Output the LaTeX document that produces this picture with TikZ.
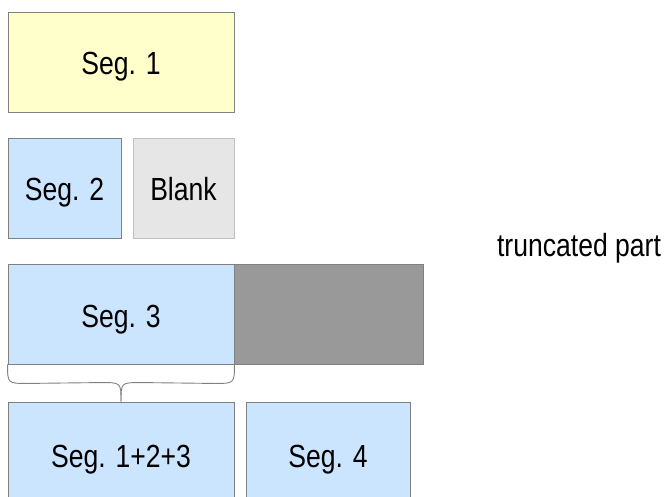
\documentclass[tikz,border=0pt]{standalone}
\usepackage{fontspec}
\setmainfont[FakeStretch=0.83]{Liberation Sans}
\definecolor{segyellow}{HTML}{FFFFCC}
\definecolor{segblue}{HTML}{CCE5FF}
\definecolor{blankgray}{HTML}{E6E6E6}
\definecolor{truncgray}{HTML}{999999}
\definecolor{edgegray}{HTML}{808080}
\definecolor{edgelight}{HTML}{BFBFBF}
\tikzset{
  segbox/.style={draw=edgegray, line width=0.9pt, rectangle, inner sep=0pt,
    font=\fontsize{32}{36}\selectfont, text height=26pt, text depth=0pt},
  bracestyle/.style={draw=edgegray, line width=0.9pt},
}
\begin{document}
\begin{tikzpicture}[x=1pt,y=-1pt]
\clip (0,0) rectangle (664,497);
\fill[white] (0,0) rectangle (664,497);
\node[segbox, fill=segyellow, minimum width=226pt, minimum height=100pt] (s1) at (121,62) {Seg. 1};
\node[segbox, fill=segblue, minimum width=113pt, minimum height=100pt] (s2) at (64.5,188) {Seg. 2};
\node[segbox, fill=blankgray, draw=edgelight, minimum width=101pt, minimum height=100pt] (blank) at (183.5,188) {Blank};
\node[segbox, fill=truncgray, minimum width=189pt, minimum height=100pt] (trunc) at (328.5,314) {};
\node[segbox, fill=segblue, minimum width=226pt, minimum height=100pt] (s3) at (121,314) {Seg. 3};
\node[font=\fontsize{32}{36}\selectfont, anchor=base, inner sep=0pt] (tlabel) at (579,256) {truncated part};
\node[segbox, fill=segblue, minimum width=226pt, minimum height=105pt] (s123) at (121,454.5) {Seg. 1+2+3};
\node[segbox, fill=segblue, minimum width=164pt, minimum height=105pt] (s4) at (328,454.5) {Seg. 4};
\coordinate (bl) at (s3.south west);
\coordinate (br) at (s3.south east);
\coordinate (tip) at (s123.north);
\draw[bracestyle] (bl) .. controls ([yshift=-19pt]bl) .. ([xshift=20pt,yshift=-19pt]bl)
  -- ([xshift=-20pt,yshift=19pt]tip) .. controls ([yshift=19pt]tip) .. (tip);
\draw[bracestyle] (br) .. controls ([yshift=-19pt]br) .. ([xshift=-20pt,yshift=-19pt]br)
  -- ([xshift=20pt,yshift=19pt]tip) .. controls ([yshift=19pt]tip) .. (tip);
\end{tikzpicture}
\end{document}
